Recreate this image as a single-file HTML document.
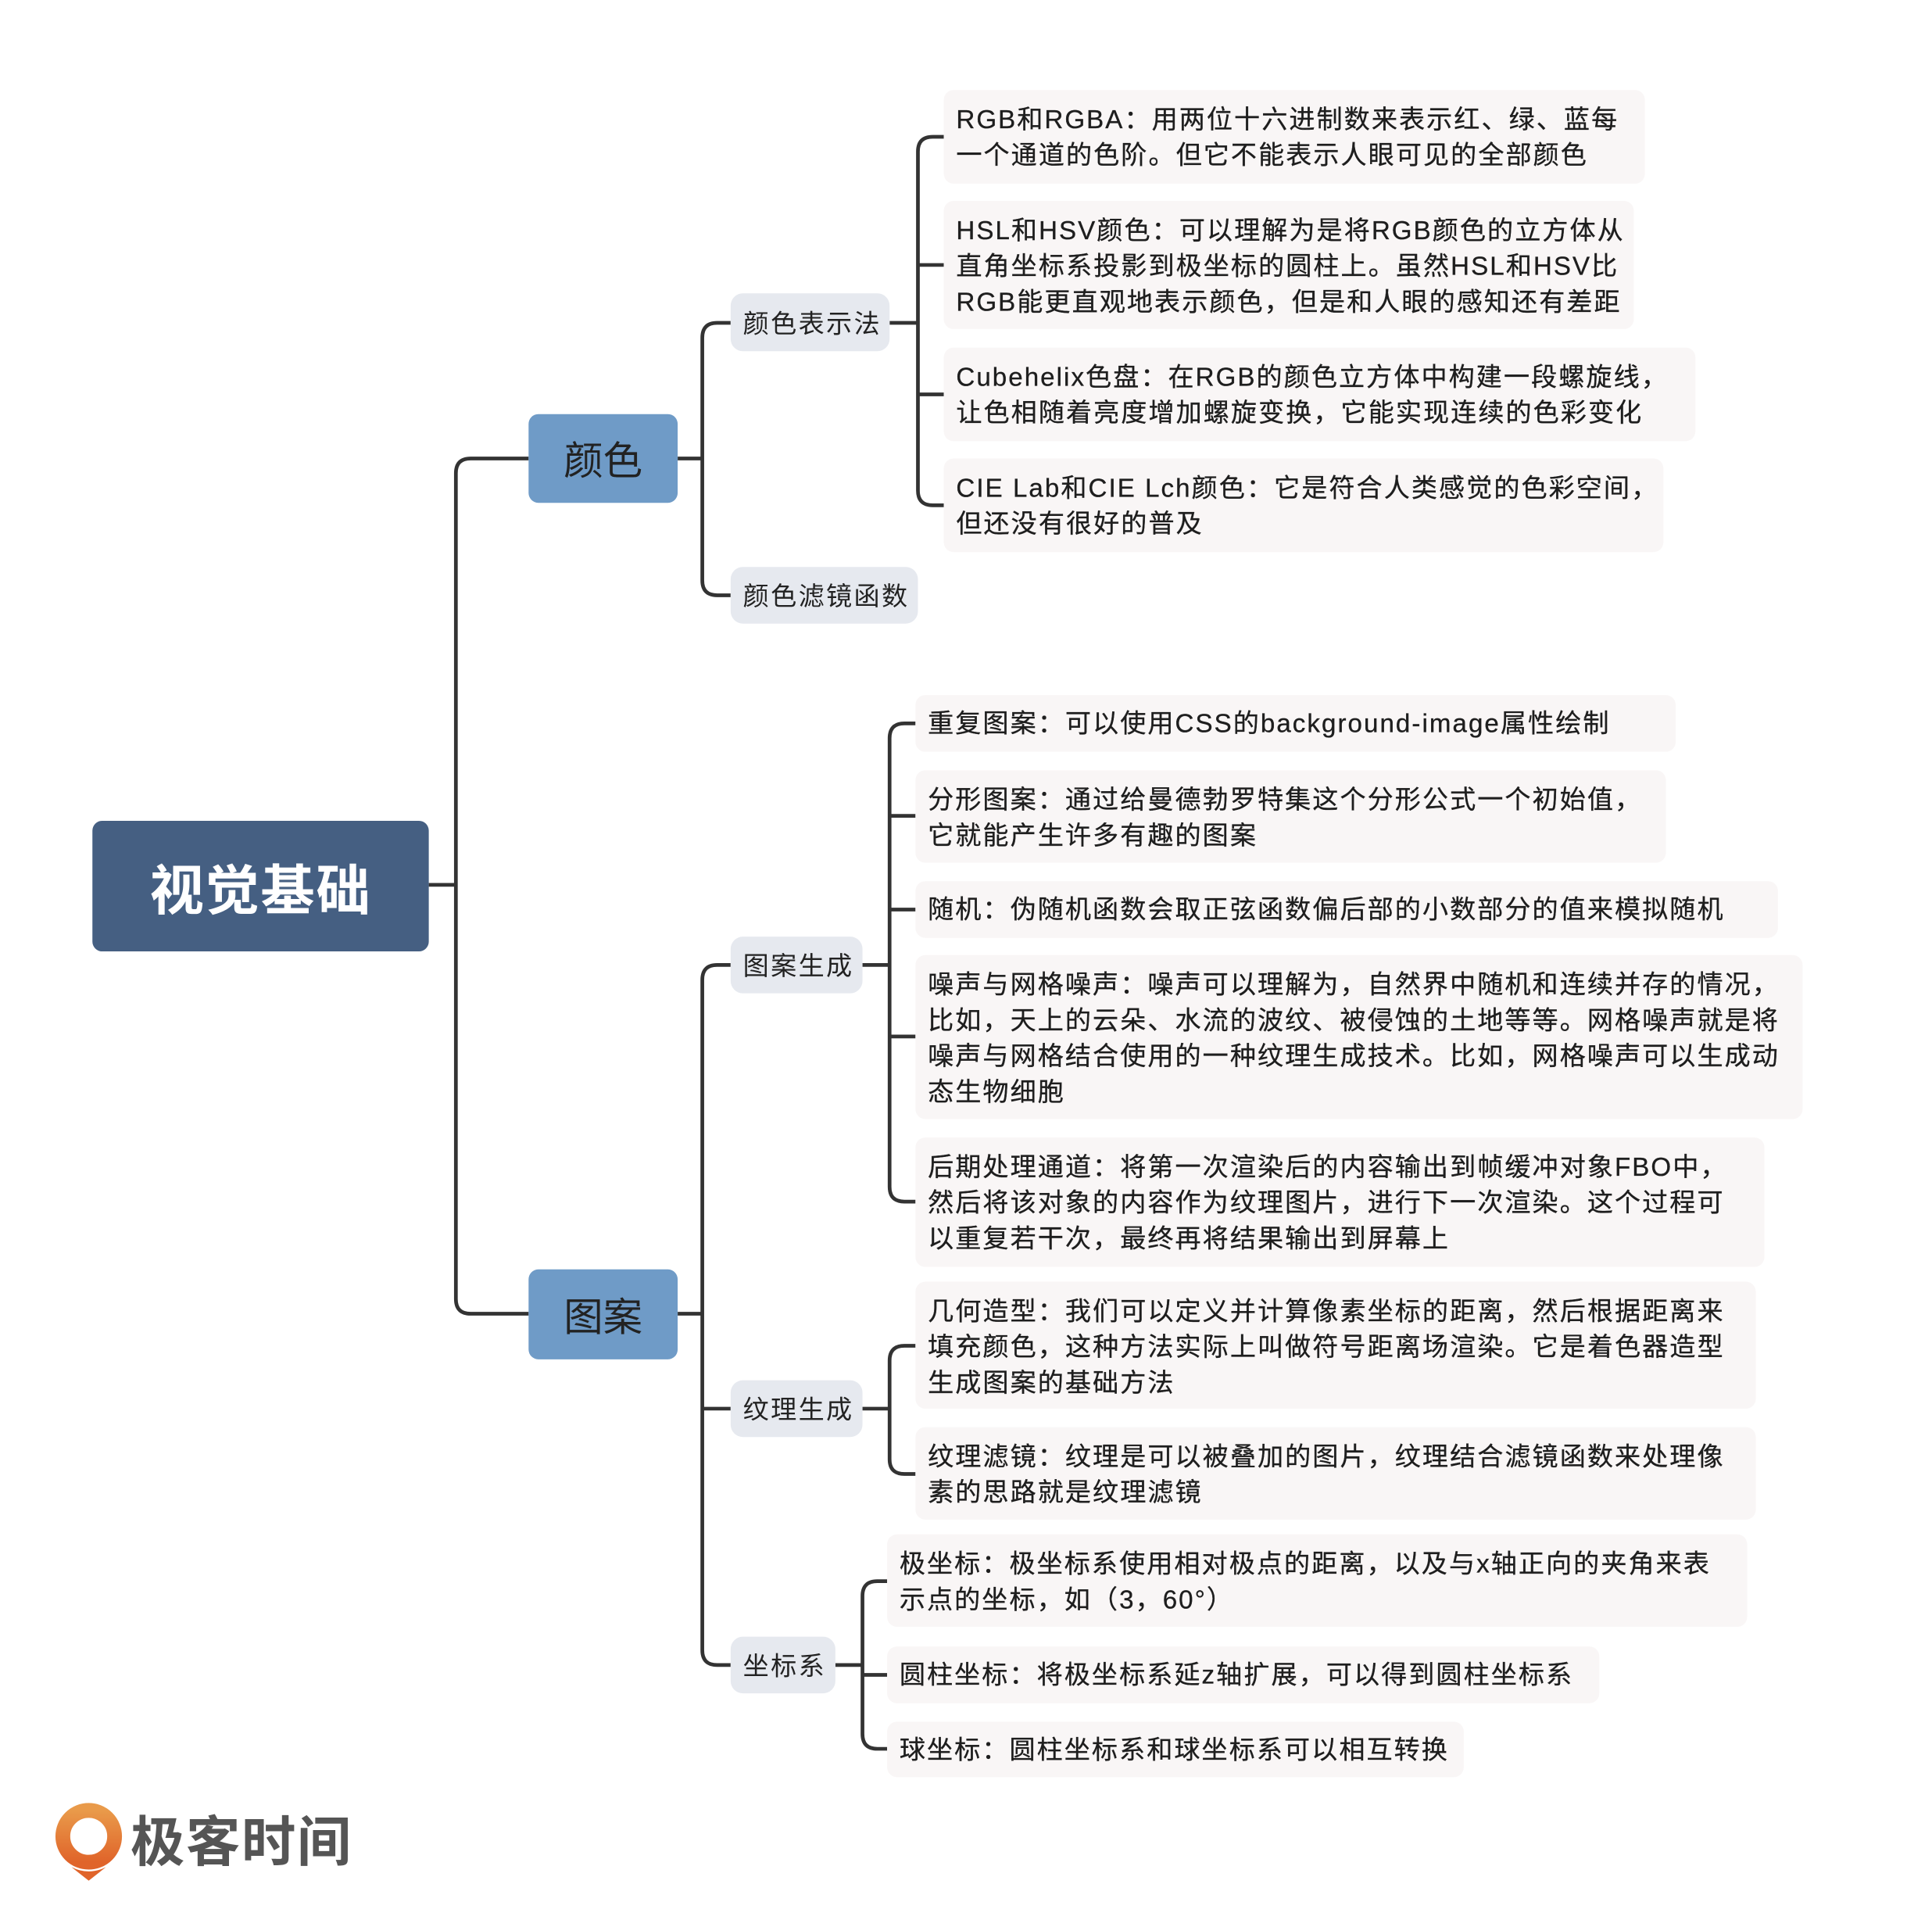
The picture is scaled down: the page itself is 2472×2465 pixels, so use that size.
<!DOCTYPE html>
<html><head><meta charset="utf-8"><style>
html,body{margin:0;padding:0;background:#fff;}
body{width:2472px;height:2465px;overflow:hidden;position:relative;}
#c{position:absolute;left:0;top:0;width:1568px;height:1563px;transform:scale(1.5765);transform-origin:0 0;font-family:"Liberation Sans","Noto Sans CJK SC",sans-serif;}
.b{position:absolute;box-sizing:border-box;}
.root{background:#455f82;border-radius:8px;color:#fff;font-weight:bold;font-size:44px;display:flex;align-items:center;justify-content:center;letter-spacing:1px;}
.l1{background:#6f9bc7;border-radius:8px;color:#222;font-size:32px;display:flex;align-items:center;justify-content:center;}
.l2{background:#e6e9ef;border-radius:10px;color:#222;font-size:21px;letter-spacing:1.5px;display:flex;align-items:center;padding-left:10px;}
.lf{background:#f9f6f6;border-radius:8px;color:#1e1e1e;font-size:21px;letter-spacing:1.3px;line-height:29px;padding:10px 0 0 10px;white-space:nowrap;-webkit-text-stroke:0.2px #1e1e1e;}
</style></head><body><div id="c">
<svg width="1568" height="1563" style="position:absolute;left:0;top:0" fill="none" stroke="#333" stroke-width="3">
<path d="M348 718H370"/>
<path d="M429 372H382Q370 372 370 384V1054Q370 1066 382 1066H429"/>
<path d="M550 372H570"/>
<path d="M593 262H582Q570 262 570 274V471Q570 483 582 483H593"/>
<path d="M722 262H745"/>
<path d="M766 111H757Q745 111 745 123V398Q745 410 757 410H766"/>
<path d="M745 215H766M745 320H766"/>
<path d="M550 1066H570"/>
<path d="M593 783H582Q570 783 570 795V1339Q570 1351 582 1351H593"/>
<path d="M570 1143H593"/>
<path d="M700 783H722"/>
<path d="M743 587H734Q722 587 722 599V963Q722 975 734 975H743"/>
<path d="M722 662H743M722 738H743M722 841H743"/>
<path d="M700 1143H722"/>
<path d="M743 1092H734Q722 1092 722 1104V1184Q722 1196 734 1196H743"/>
<path d="M678 1351H700"/>
<path d="M720 1283H712Q700 1283 700 1295V1407Q700 1419 712 1419H720"/>
<path d="M700 1359H720"/>
</svg>
<div class="b root" style="left:75px;top:666px;width:273px;height:106px">视觉基础</div>
<div class="b l1" style="left:429px;top:336px;width:121px;height:72px">颜色</div>
<div class="b l1" style="left:429px;top:1030px;width:121px;height:73px">图案</div>
<div class="b l2" style="left:593px;top:238px;width:129px;height:47px">颜色表示法</div>
<div class="b l2" style="left:593px;top:460px;width:152px;height:46px">颜色滤镜函数</div>
<div class="b l2" style="left:593px;top:760px;width:107px;height:46px">图案生成</div>
<div class="b l2" style="left:593px;top:1120px;width:107px;height:46px">纹理生成</div>
<div class="b l2" style="left:593px;top:1328px;width:85px;height:46px">坐标系</div>
<div class="b lf" style="left:766px;top:73px;width:569px;height:76px">RGB和RGBA：用两位十六进制数来表示红、绿、蓝每<br>一个通道的色阶。但它不能表示人眼可见的全部颜色</div>
<div class="b lf" style="left:766px;top:163px;width:560px;height:104px">HSL和HSV颜色：可以理解为是将RGB颜色的立方体从<br>直角坐标系投影到极坐标的圆柱上。虽然HSL和HSV比<br>RGB能更直观地表示颜色，但是和人眼的感知还有差距</div>
<div class="b lf" style="left:766px;top:282px;width:610px;height:76px">Cubehelix色盘：在RGB的颜色立方体中构建一段螺旋线，<br>让色相随着亮度增加螺旋变换，它能实现连续的色彩变化</div>
<div class="b lf" style="left:766px;top:372px;width:584px;height:76px">CIE Lab和CIE Lch颜色：它是符合人类感觉的色彩空间，<br>但还没有很好的普及</div>
<div class="b lf" style="left:743px;top:564px;width:617px;height:46px;padding-top:9px">重复图案：可以使用CSS的background-image属性绘制</div>
<div class="b lf" style="left:743px;top:625px;width:609px;height:75px">分形图案：通过给曼德勃罗特集这个分形公式一个初始值，<br>它就能产生许多有趣的图案</div>
<div class="b lf" style="left:743px;top:715px;width:700px;height:46px;padding-top:9px">随机：伪随机函数会取正弦函数偏后部的小数部分的值来模拟随机</div>
<div class="b lf" style="left:743px;top:775px;width:720px;height:133px">噪声与网格噪声：噪声可以理解为，自然界中随机和连续并存的情况，<br>比如，天上的云朵、水流的波纹、被侵蚀的土地等等。网格噪声就是将<br>噪声与网格结合使用的一种纹理生成技术。比如，网格噪声可以生成动<br>态生物细胞</div>
<div class="b lf" style="left:743px;top:923px;width:689px;height:105px">后期处理通道：将第一次渲染后的内容输出到帧缓冲对象FBO中，<br>然后将该对象的内容作为纹理图片，进行下一次渲染。这个过程可<br>以重复若干次，最终再将结果输出到屏幕上</div>
<div class="b lf" style="left:743px;top:1040px;width:682px;height:103px">几何造型：我们可以定义并计算像素坐标的距离，然后根据距离来<br>填充颜色，这种方法实际上叫做符号距离场渲染。它是着色器造型<br>生成图案的基础方法</div>
<div class="b lf" style="left:743px;top:1158px;width:682px;height:75px">纹理滤镜：纹理是可以被叠加的图片，纹理结合滤镜函数来处理像<br>素的思路就是纹理滤镜</div>
<div class="b lf" style="left:720px;top:1245px;width:698px;height:75px">极坐标：极坐标系使用相对极点的距离，以及与x轴正向的夹角来表<br>示点的坐标，如（3，60°）</div>
<div class="b lf" style="left:720px;top:1336px;width:578px;height:46px;padding-top:9px">圆柱坐标：将极坐标系延z轴扩展，可以得到圆柱坐标系</div>
<div class="b lf" style="left:720px;top:1397px;width:468px;height:45px;padding-top:9px">球坐标：圆柱坐标系和球坐标系可以相互转换</div>
<svg width="60" height="70" style="position:absolute;left:42px;top:1462px">
<defs><linearGradient id="g" x1="0" y1="0" x2="0" y2="1"><stop offset="0" stop-color="#e99a4a"/><stop offset="1" stop-color="#e0642a"/></linearGradient></defs>
<circle cx="30" cy="28" r="21" fill="none" stroke="url(#g)" stroke-width="12"/>
<path d="M16 53Q30 60 44 53L30 64Z" fill="#e0642a"/>
</svg>
<div class="b" style="left:106px;top:1468px;font-size:44px;color:#555;font-weight:bold;letter-spacing:1px;line-height:56px">极客时间</div>
</div></body></html>
